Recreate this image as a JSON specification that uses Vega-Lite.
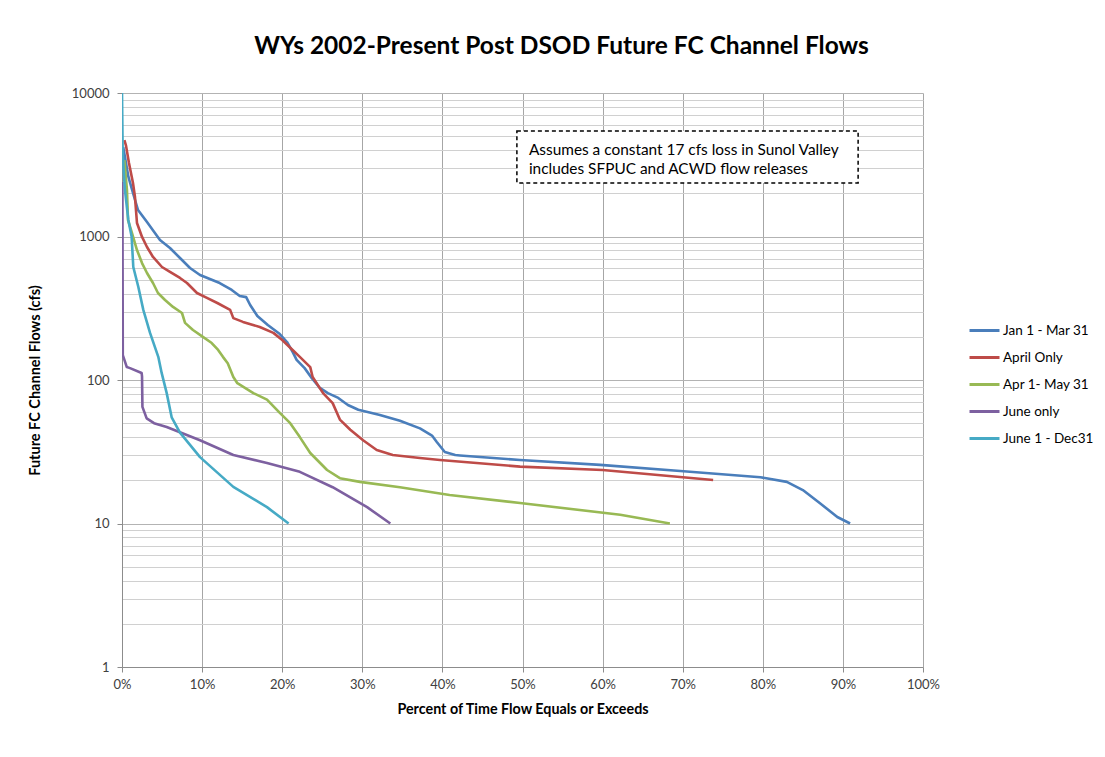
{
  "$schema": "https://vega.github.io/schema/vega-lite/v6.json",
  "width": 801,
  "height": 574,
  "autosize": {"type": "none"},
  "padding": {"left": 122, "top": 93, "right": 182, "bottom": 90},
  "background": "white",
  "title": {
    "text": "WYs 2002-Present Post DSOD Future FC Channel Flows",
    "font": "Lato",
    "fontSize": 24.5,
    "fontWeight": "bold",
    "color": "#000000",
    "anchor": "middle",
    "dx": 39,
    "offset": 28
  },
  "config": {
    "view": {"stroke": null},
    "font": "Lato"
  },
  "datasets": {
    "flows": [
      {"series": "Jan 1 - Mar 31", "pct": 0.15, "flow": 4200},
      {"series": "Jan 1 - Mar 31", "pct": 0.8, "flow": 2600},
      {"series": "Jan 1 - Mar 31", "pct": 1.37, "flow": 2010},
      {"series": "Jan 1 - Mar 31", "pct": 2.0, "flow": 1530},
      {"series": "Jan 1 - Mar 31", "pct": 3.12, "flow": 1262},
      {"series": "Jan 1 - Mar 31", "pct": 4.74, "flow": 946},
      {"series": "Jan 1 - Mar 31", "pct": 5.99, "flow": 832},
      {"series": "Jan 1 - Mar 31", "pct": 7.24, "flow": 708},
      {"series": "Jan 1 - Mar 31", "pct": 8.49, "flow": 603},
      {"series": "Jan 1 - Mar 31", "pct": 9.74, "flow": 539},
      {"series": "Jan 1 - Mar 31", "pct": 12.2, "flow": 474},
      {"series": "Jan 1 - Mar 31", "pct": 13.7, "flow": 424},
      {"series": "Jan 1 - Mar 31", "pct": 14.7, "flow": 385},
      {"series": "Jan 1 - Mar 31", "pct": 15.5, "flow": 378},
      {"series": "Jan 1 - Mar 31", "pct": 16.0, "flow": 333},
      {"series": "Jan 1 - Mar 31", "pct": 16.9, "flow": 279},
      {"series": "Jan 1 - Mar 31", "pct": 18.2, "flow": 242},
      {"series": "Jan 1 - Mar 31", "pct": 19.7, "flow": 209},
      {"series": "Jan 1 - Mar 31", "pct": 20.6, "flow": 184},
      {"series": "Jan 1 - Mar 31", "pct": 21.3, "flow": 157},
      {"series": "Jan 1 - Mar 31", "pct": 21.8, "flow": 138},
      {"series": "Jan 1 - Mar 31", "pct": 22.8, "flow": 121},
      {"series": "Jan 1 - Mar 31", "pct": 23.7, "flow": 103},
      {"series": "Jan 1 - Mar 31", "pct": 24.7, "flow": 88},
      {"series": "Jan 1 - Mar 31", "pct": 25.7, "flow": 81},
      {"series": "Jan 1 - Mar 31", "pct": 27.0, "flow": 75},
      {"series": "Jan 1 - Mar 31", "pct": 28.2, "flow": 67},
      {"series": "Jan 1 - Mar 31", "pct": 29.5, "flow": 62},
      {"series": "Jan 1 - Mar 31", "pct": 32.2, "flow": 57},
      {"series": "Jan 1 - Mar 31", "pct": 34.7, "flow": 52},
      {"series": "Jan 1 - Mar 31", "pct": 37.2, "flow": 46},
      {"series": "Jan 1 - Mar 31", "pct": 38.7, "flow": 41},
      {"series": "Jan 1 - Mar 31", "pct": 39.3, "flow": 37},
      {"series": "Jan 1 - Mar 31", "pct": 40.3, "flow": 31.5},
      {"series": "Jan 1 - Mar 31", "pct": 41.6, "flow": 30},
      {"series": "Jan 1 - Mar 31", "pct": 42.2, "flow": 29.8},
      {"series": "Jan 1 - Mar 31", "pct": 49.7, "flow": 27.7},
      {"series": "Jan 1 - Mar 31", "pct": 59.7, "flow": 25.6},
      {"series": "Jan 1 - Mar 31", "pct": 69.7, "flow": 23.2},
      {"series": "Jan 1 - Mar 31", "pct": 79.7, "flow": 21},
      {"series": "Jan 1 - Mar 31", "pct": 83.0, "flow": 19.5},
      {"series": "Jan 1 - Mar 31", "pct": 85.0, "flow": 17.1},
      {"series": "Jan 1 - Mar 31", "pct": 87.1, "flow": 13.9},
      {"series": "Jan 1 - Mar 31", "pct": 89.3, "flow": 11.1},
      {"series": "Jan 1 - Mar 31", "pct": 90.9, "flow": 10},

      {"series": "April Only", "pct": 0.3, "flow": 4700},
      {"series": "April Only", "pct": 0.5, "flow": 4300},
      {"series": "April Only", "pct": 0.87, "flow": 3251},
      {"series": "April Only", "pct": 1.37, "flow": 2360},
      {"series": "April Only", "pct": 1.62, "flow": 1884},
      {"series": "April Only", "pct": 1.87, "flow": 1242},
      {"series": "April Only", "pct": 2.5, "flow": 993},
      {"series": "April Only", "pct": 3.12, "flow": 845},
      {"series": "April Only", "pct": 3.87, "flow": 720},
      {"series": "April Only", "pct": 4.99, "flow": 613},
      {"series": "April Only", "pct": 5.99, "flow": 566},
      {"series": "April Only", "pct": 7.24, "flow": 514},
      {"series": "April Only", "pct": 8.11, "flow": 474},
      {"series": "April Only", "pct": 9.36, "flow": 404},
      {"series": "April Only", "pct": 10.6, "flow": 373},
      {"series": "April Only", "pct": 11.9, "flow": 344},
      {"series": "April Only", "pct": 13.5, "flow": 308},
      {"series": "April Only", "pct": 13.9, "flow": 270},
      {"series": "April Only", "pct": 15.1, "flow": 254},
      {"series": "April Only", "pct": 17.2, "flow": 234},
      {"series": "April Only", "pct": 18.9, "flow": 213},
      {"series": "April Only", "pct": 20.0, "flow": 190},
      {"series": "April Only", "pct": 21.3, "flow": 162},
      {"series": "April Only", "pct": 22.2, "flow": 145},
      {"series": "April Only", "pct": 23.5, "flow": 123},
      {"series": "April Only", "pct": 23.8, "flow": 105},
      {"series": "April Only", "pct": 25.1, "flow": 81},
      {"series": "April Only", "pct": 26.3, "flow": 69},
      {"series": "April Only", "pct": 27.2, "flow": 53},
      {"series": "April Only", "pct": 28.5, "flow": 45},
      {"series": "April Only", "pct": 30.1, "flow": 38},
      {"series": "April Only", "pct": 31.8, "flow": 32.5},
      {"series": "April Only", "pct": 33.8, "flow": 30},
      {"series": "April Only", "pct": 37.2, "flow": 28.6},
      {"series": "April Only", "pct": 39.7, "flow": 27.7},
      {"series": "April Only", "pct": 49.7, "flow": 24.9},
      {"series": "April Only", "pct": 60.0, "flow": 23.6},
      {"series": "April Only", "pct": 73.8, "flow": 20.1},

      {"series": "Apr 1- May 31", "pct": 0.3, "flow": 3400},
      {"series": "Apr 1- May 31", "pct": 0.62, "flow": 2108},
      {"series": "Apr 1- May 31", "pct": 0.75, "flow": 1303},
      {"series": "Apr 1- May 31", "pct": 1.25, "flow": 1057},
      {"series": "Apr 1- May 31", "pct": 1.87, "flow": 805},
      {"series": "Apr 1- May 31", "pct": 2.5, "flow": 653},
      {"series": "Apr 1- May 31", "pct": 3.12, "flow": 557},
      {"series": "Apr 1- May 31", "pct": 3.87, "flow": 474},
      {"series": "Apr 1- May 31", "pct": 4.49, "flow": 404},
      {"series": "Apr 1- May 31", "pct": 5.37, "flow": 361},
      {"series": "Apr 1- May 31", "pct": 6.37, "flow": 323},
      {"series": "Apr 1- May 31", "pct": 7.49, "flow": 293},
      {"series": "Apr 1- May 31", "pct": 7.87, "flow": 250},
      {"series": "Apr 1- May 31", "pct": 8.86, "flow": 223},
      {"series": "Apr 1- May 31", "pct": 10.1, "flow": 200},
      {"series": "Apr 1- May 31", "pct": 11.2, "flow": 181},
      {"series": "Apr 1- May 31", "pct": 12.0, "flow": 162},
      {"series": "Apr 1- May 31", "pct": 12.6, "flow": 145},
      {"series": "Apr 1- May 31", "pct": 13.2, "flow": 131},
      {"series": "Apr 1- May 31", "pct": 13.9, "flow": 105},
      {"series": "Apr 1- May 31", "pct": 14.4, "flow": 95},
      {"series": "Apr 1- May 31", "pct": 16.4, "flow": 81},
      {"series": "Apr 1- May 31", "pct": 18.1, "flow": 73},
      {"series": "Apr 1- May 31", "pct": 19.7, "flow": 59},
      {"series": "Apr 1- May 31", "pct": 21.0, "flow": 50},
      {"series": "Apr 1- May 31", "pct": 22.2, "flow": 40},
      {"series": "Apr 1- May 31", "pct": 23.5, "flow": 31},
      {"series": "Apr 1- May 31", "pct": 25.6, "flow": 23.6},
      {"series": "Apr 1- May 31", "pct": 27.2, "flow": 20.7},
      {"series": "Apr 1- May 31", "pct": 29.7, "flow": 19.5},
      {"series": "Apr 1- May 31", "pct": 34.7, "flow": 17.9},
      {"series": "Apr 1- May 31", "pct": 40.9, "flow": 15.8},
      {"series": "Apr 1- May 31", "pct": 49.7, "flow": 13.9},
      {"series": "Apr 1- May 31", "pct": 62.2, "flow": 11.5},
      {"series": "Apr 1- May 31", "pct": 68.4, "flow": 10},

      {"series": "June only", "pct": 0.05, "flow": 2400},
      {"series": "June only", "pct": 0.1, "flow": 149},
      {"series": "June only", "pct": 0.6, "flow": 123},
      {"series": "June only", "pct": 1.0, "flow": 121},
      {"series": "June only", "pct": 2.45, "flow": 112},
      {"series": "June only", "pct": 2.5, "flow": 106},
      {"series": "June only", "pct": 2.55, "flow": 65},
      {"series": "June only", "pct": 3.08, "flow": 54},
      {"series": "June only", "pct": 4.0, "flow": 50},
      {"series": "June only", "pct": 5.58, "flow": 47},
      {"series": "June only", "pct": 9.74, "flow": 38},
      {"series": "June only", "pct": 13.9, "flow": 30},
      {"series": "June only", "pct": 18.1, "flow": 26.4},
      {"series": "June only", "pct": 22.2, "flow": 22.9},
      {"series": "June only", "pct": 26.3, "flow": 17.9},
      {"series": "June only", "pct": 30.6, "flow": 13.0},
      {"series": "June only", "pct": 33.5, "flow": 10},

      {"series": "June 1 - Dec31", "pct": 0.0, "flow": 10000},
      {"series": "June 1 - Dec31", "pct": 0.08, "flow": 4000},
      {"series": "June 1 - Dec31", "pct": 0.2, "flow": 2900},
      {"series": "June 1 - Dec31", "pct": 0.37, "flow": 2108},
      {"series": "June 1 - Dec31", "pct": 0.79, "flow": 1303},
      {"series": "June 1 - Dec31", "pct": 1.2, "flow": 1000},
      {"series": "June 1 - Dec31", "pct": 1.41, "flow": 613},
      {"series": "June 1 - Dec31", "pct": 2.04, "flow": 445},
      {"series": "June 1 - Dec31", "pct": 2.66, "flow": 308},
      {"series": "June 1 - Dec31", "pct": 3.5, "flow": 213},
      {"series": "June 1 - Dec31", "pct": 4.53, "flow": 145},
      {"series": "June 1 - Dec31", "pct": 4.95, "flow": 112},
      {"series": "June 1 - Dec31", "pct": 5.58, "flow": 81},
      {"series": "June 1 - Dec31", "pct": 6.2, "flow": 55},
      {"series": "June 1 - Dec31", "pct": 7.24, "flow": 43},
      {"series": "June 1 - Dec31", "pct": 9.74, "flow": 29},
      {"series": "June 1 - Dec31", "pct": 13.9, "flow": 18},
      {"series": "June 1 - Dec31", "pct": 18.1, "flow": 13.0},
      {"series": "June 1 - Dec31", "pct": 20.8, "flow": 10}
    ],
    "note": [
      {"line1": "Assumes a constant 17 cfs loss in Sunol Valley", "line2": "includes SFPUC and ACWD flow releases"}
    ]
  },
  "layer": [
    {
      "data": {"name": "flows"},
      "mark": {"type": "line", "strokeWidth": 2.6, "strokeJoin": "round", "clip": true},
      "encoding": {
        "x": {
          "field": "pct",
          "type": "quantitative",
          "scale": {"domain": [0, 100], "nice": false, "zero": false},
          "axis": {
            "values": [0, 10, 20, 30, 40, 50, 60, 70, 80, 90, 100],
            "labelExpr": "datum.value + '%'",
            "labelFlush": false,
            "title": "Percent of Time Flow Equals or Exceeds",
            "titleFont": "Lato",
            "titleFontSize": 14.3,
            "titleFontWeight": "bold",
            "titleColor": "#000000",
            "titlePadding": 11,
            "labelFont": "Lato",
            "labelFontSize": 13,
            "labelColor": "#404040",
            "labelPadding": 6,
            "tickSize": 5,
            "tickColor": "#8c8c8c",
            "domainColor": "#8c8c8c",
            "grid": true,
            "gridColor": "#a6a6a6",
            "gridWidth": 1
          }
        },
        "y": {
          "field": "flow",
          "type": "quantitative",
          "scale": {"type": "log", "domain": [1, 10000], "nice": false},
          "axis": {
            "values": [1,2,3,4,5,6,7,8,9,10,20,30,40,50,60,70,80,90,100,200,300,400,500,600,700,800,900,1000,2000,3000,4000,5000,6000,7000,8000,9000,10000],
            "labelExpr": "(datum.value == 1 || datum.value == 10 || datum.value == 100 || datum.value == 1000 || datum.value == 10000) ? format(datum.value, 'd') : ''",
            "labelOverlap": false,
            "title": "Future FC Channel Flows (cfs)",
            "titleFont": "Lato",
            "titleFontSize": 14.5,
            "titleFontWeight": "bold",
            "titleColor": "#000000",
            "titlePadding": 29,
            "labelFont": "Lato",
            "labelFontSize": 13,
            "labelColor": "#404040",
            "labelPadding": 8,
            "tickSize": 5,
            "tickColor": "#8c8c8c",
            "tickOpacity": {"condition": {"test": "datum.value == 1 || datum.value == 10 || datum.value == 100 || datum.value == 1000 || datum.value == 10000", "value": 1}, "value": 0},
            "domainColor": "#8c8c8c",
            "grid": true,
            "gridColor": {"condition": {"test": "datum.value == 10 || datum.value == 100 || datum.value == 1000 || datum.value == 10000", "value": "#b3b3b3"}, "value": "#d0d0d0"},
            "gridWidth": 1
          }
        },
        "color": {
          "field": "series",
          "type": "nominal",
          "scale": {
            "domain": ["Jan 1 - Mar 31", "April Only", "Apr 1- May 31", "June only", "June 1 - Dec31"],
            "range": ["#4a7ebb", "#be4b48", "#98b954", "#7d60a0", "#46aac5"]
          },
          "legend": {
            "title": null,
            "orient": "none",
            "legendX": 846,
            "legendY": 221,
            "symbolType": "stroke",
            "symbolSize": 900,
            "symbolStrokeWidth": 3,
            "labelFont": "Lato",
            "labelFontSize": 13.5,
            "labelColor": "#000000",
            "labelOffset": 2,
            "rowPadding": 4
          }
        }
      }
    },
    {
      "data": {"name": "note"},
      "mark": {"type": "rect", "fill": "white", "stroke": "#000000", "strokeWidth": 1.5, "strokeDash": [4, 3]},
      "encoding": {
        "x": {"datum": 49.3},
        "x2": {"datum": 91.9},
        "y": {"datum": 5430},
        "y2": {"datum": 2360}
      }
    },
    {
      "data": {"name": "note"},
      "mark": {"type": "text", "align": "left", "baseline": "middle", "font": "Lato", "fontSize": 15.4, "lineHeight": 19, "color": "#000000"},
      "encoding": {
        "x": {"datum": 50.8},
        "y": {"datum": 4000},
        "text": {"value": ["Assumes a constant 17 cfs loss in Sunol Valley", "includes SFPUC and ACWD flow releases"]}
      }
    }
  ]
}
